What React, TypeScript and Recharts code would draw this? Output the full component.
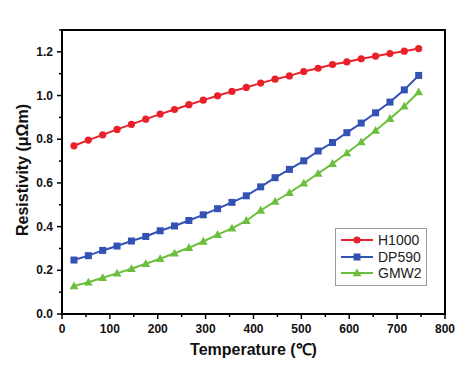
import React from 'react';
import { LineChart, Line, XAxis, YAxis, ReferenceArea } from 'recharts';

// temperature points (℃)
const temperatures = [25, 55, 85, 115, 145, 175, 205, 235, 265, 295, 325, 355, 385, 415, 445, 475, 505, 535, 565, 595, 625, 655, 685, 715, 745];

// resistivity (μΩm)
const h1000 = [0.77, 0.796, 0.82, 0.845, 0.868, 0.892, 0.915, 0.936, 0.958, 0.979, 0.999, 1.019, 1.037, 1.057, 1.075, 1.09, 1.11, 1.125, 1.142, 1.154, 1.168, 1.18, 1.192, 1.203, 1.215];
const dp590 = [0.247, 0.267, 0.291, 0.311, 0.334, 0.355, 0.381, 0.403, 0.428, 0.454, 0.482, 0.511, 0.541, 0.582, 0.624, 0.662, 0.701, 0.746, 0.785, 0.83, 0.874, 0.921, 0.97, 1.026, 1.092];
const gmw2 = [0.128, 0.145, 0.166, 0.186, 0.207, 0.23, 0.253, 0.278, 0.303, 0.332, 0.363, 0.392, 0.427, 0.474, 0.515, 0.555, 0.598, 0.643, 0.688, 0.737, 0.787, 0.84, 0.894, 0.951, 1.016];

const xTicks = [0, 50, 100, 150, 200, 250, 300, 350, 400, 450, 500, 550, 600, 650, 700, 750, 800];
const yTicks = [0, 0.1, 0.2, 0.3, 0.4, 0.5, 0.6, 0.7, 0.8, 0.9, 1.0, 1.1, 1.2, 1.3];

const data = temperatures.map((t, i) => ({ t, h1000: h1000[i], dp590: dp590[i], gmw2: gmw2[i] }));

const series = [
  { key: 'h1000', name: 'H1000', color: '#e8212b', shape: 'circle' },
  { key: 'dp590', name: 'DP590', color: '#3452b4', shape: 'square' },
  { key: 'gmw2', name: 'GMW2', color: '#6cbf3e', shape: 'triangle' },
];

const font = '"Liberation Sans", Arial, sans-serif';

const Marker = ({ cx, cy, shape, color }: any) => {
  if (cx == null || cy == null) return null;
  if (shape === 'circle') return <circle cx={cx} cy={cy} r={3.6} fill={color} />;
  if (shape === 'square') return <rect x={cx - 3.5} y={cy - 3.5} width={7} height={7} fill={color} />;
  return <polygon points={`${cx},${cy - 4.6} ${cx - 4.4},${cy + 3.2} ${cx + 4.4},${cy + 3.2}`} fill={color} />;
};

const XTick = ({ x, y, payload }: any) => {
  const major = payload.value % 100 === 0;
  return (
    <g>
      <line x1={x} y1={y} x2={x} y2={y + (major ? 5 : 3)} stroke="#000" strokeWidth={1.5} />
      {major && (
        <text x={x} y={y + 19} textAnchor="middle" fontSize={12} fontWeight="bold" fontFamily={font} fill="#111">
          {payload.value}
        </text>
      )}
    </g>
  );
};

const YTick = ({ x, y, payload }: any) => {
  const v = Math.round(payload.value * 10);
  const major = v % 2 === 0;
  return (
    <g>
      <line x1={x - (major ? 5 : 3)} y1={y} x2={x} y2={y} stroke="#000" strokeWidth={1.5} />
      {major && (
        <text x={x - 9} y={y + 4} textAnchor="end" fontSize={12} fontWeight="bold" fontFamily={font} fill="#111">
          {(v / 10).toFixed(1)}
        </text>
      )}
    </g>
  );
};

const LegendBox = () => (
  <div
    style={{
      position: 'absolute',
      left: 335,
      top: 228,
      border: '1px solid #9a9a9a',
      background: '#fff',
      width: 92,
      padding: '3px 0',
      boxSizing: 'border-box',
    }}
  >
    {series.map((s) => (
      <div key={s.key} style={{ display: 'flex', alignItems: 'center', height: 16.5 }}>
        <svg width={38} height={12} style={{ marginLeft: 4 }}>
          <line x1={1} y1={6} x2={33} y2={6} stroke={s.color} strokeWidth={2} />
          <Marker cx={17} cy={6} shape={s.shape} color={s.color} />
        </svg>
        <span style={{ fontFamily: font, fontSize: 14, color: '#222' }}>{s.name}</span>
      </div>
    ))}
  </div>
);

const frameLine = { stroke: '#000', strokeWidth: 2 };

export default function App() {
  return (
    <div style={{ position: 'absolute', left: 0, top: 0, width: 472, height: 373, background: '#fff' }}>
      <LineChart width={472} height={373} data={data} margin={{ top: 30, right: 27, bottom: 0, left: 0 }}>
        <XAxis
          dataKey="t"
          type="number"
          domain={[0, 800]}
          ticks={xTicks}
          interval={0}
          tickSize={0}
          tickMargin={0}
          tickLine={false}
          tick={<XTick />}
          height={59}
          axisLine={frameLine}
          label={{
            content: ({ viewBox }: any) => (
              <text x={viewBox.x + viewBox.width / 2} y={viewBox.y + 41} textAnchor="middle" fontSize={16} fontWeight="bold" fontFamily={font} fill="#111">
                Temperature (℃)
              </text>
            ),
          }}
        />
        <YAxis
          type="number"
          domain={[0, 1.3]}
          ticks={yTicks}
          interval={0}
          tickSize={0}
          tickMargin={0}
          tickLine={false}
          tick={<YTick />}
          width={62}
          axisLine={frameLine}
          label={{
            content: ({ viewBox }: any) => {
              const cx = viewBox.x + 22;
              const cy = viewBox.y + viewBox.height / 2 - 2;
              return (
                <text x={cx} y={cy} transform={`rotate(-90, ${cx}, ${cy})`} textAnchor="middle" dominantBaseline="central" fontSize={16} fontWeight="bold" fontFamily={font} fill="#111">
                  Resistivity (μΩm)
                </text>
              );
            },
          }}
        />
        <ReferenceArea x1={0} x2={800} y1={0} y2={1.3} fill="none" stroke="#000" strokeWidth={2} ifOverflow="visible" />
        {series.map((s) => (
          <Line
            key={s.key}
            dataKey={s.key}
            name={s.name}
            stroke={s.color}
            strokeWidth={2}
            type="linear"
            isAnimationActive={false}
            dot={(p: any) => <Marker key={`${s.key}-${p.index}`} cx={p.cx} cy={p.cy} shape={s.shape} color={s.color} />}
            activeDot={false}
          />
        ))}
      </LineChart>
      <LegendBox />
    </div>
  );
}
